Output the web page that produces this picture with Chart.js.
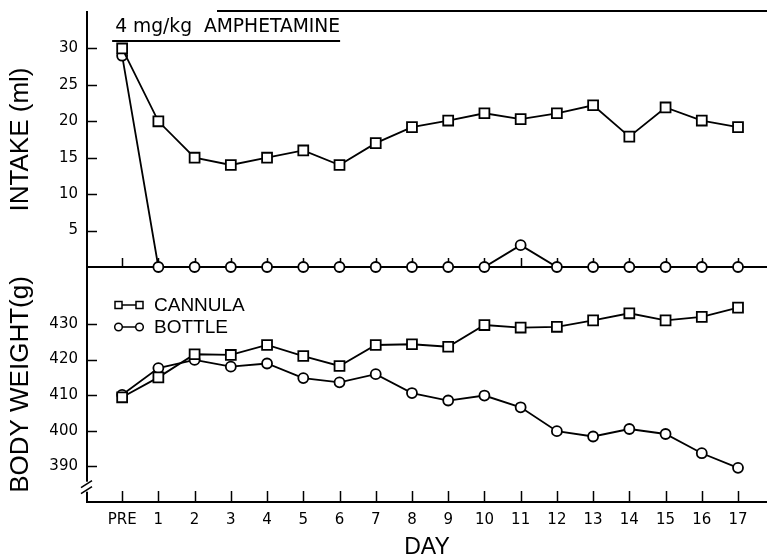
<!DOCTYPE html>
<html>
<head>
<meta charset="utf-8">
<script src="https://cdn.jsdelivr.net/npm/chart.js@4"></script>
<style>
  html, body { margin: 0; padding: 0; background: #fff; }
  canvas { display: block; }
</style>
</head>
<body>
<canvas id="chart" width="767" height="560"></canvas>
<script>
const dayLabels = ['PRE', '1', '2', '3', '4', '5', '6', '7', '8', '9', '10', '11', '12', '13', '14', '15', '16', '17'];
const intakeCannula = [30, 20, 15, 14, 15, 16, 14, 17, 19.2, 20.1, 21.1, 20.3, 21.1, 22.2, 17.9, 21.9, 20.1, 19.2];
const intakeBottle = [29, 0, 0, 0, 0, 0, 0, 0, 0, 0, 0, 3, 0, 0, 0, 0, 0, 0];
const weightCannula = [409.4, 415, 421.5, 421.3, 424.1, 421, 418.2, 424.1, 424.3, 423.6, 429.7, 429, 429.2, 431, 433, 431, 432, 434.6];
const weightBottle = [410.1, 417.6, 419.9, 418, 418.9, 414.8, 413.6, 415.9, 410.6, 408.5, 409.9, 406.6, 399.9, 398.4, 400.5, 399.1, 393.7, 389.6];
const intakeTicks = [5, 10, 15, 20, 25, 30];
const weightTicks = [390, 400, 410, 420, 430];
const legendLabels = ['CANNULA', 'BOTTLE'];
const doseLabel = '4 mg/kg  AMPHETAMINE';

const FONT = "'Liberation Sans', Arial, sans-serif";
const WIDE = "'DejaVu Sans', sans-serif";
const INK = '#000';

const toPoints = (arr) => arr.map((v, i) => ({ x: i, y: v }));

function series(data, axis, style) {
  return {
    data: toPoints(data),
    yAxisID: axis,
    borderColor: INK,
    borderWidth: 1.8,
    pointStyle: style,
    pointRadius: style === 'rect' ? 7 : 5,
    pointBorderWidth: 1.8,
    pointBorderColor: INK,
    pointBackgroundColor: '#fff',
    tension: 0,
    clip: false,
  };
}

// no label overhang padding, so the plot fills the canvas edges
function noPad(s) {
  s.paddingTop = 0;
  s.paddingBottom = 0;
  s.paddingLeft = 0;
  s.paddingRight = 0;
}

const decor = {
  id: 'decor',
  beforeDatasetsDraw(chart) {
    const { ctx, chartArea: a, scales: { x, yI, yW } } = chart;
    const y0 = yI.getPixelForValue(0);
    ctx.save();
    ctx.strokeStyle = INK;
    ctx.lineWidth = 2;
    ctx.beginPath();
    // partial frame on top
    ctx.moveTo(217, a.top - 1);
    ctx.lineTo(a.right, a.top - 1);
    // zero line of intake panel
    ctx.moveTo(a.left, y0);
    ctx.lineTo(a.right, y0);
    ctx.stroke();

    ctx.lineWidth = 1.5;
    ctx.beginPath();
    dayLabels.forEach((_, i) => {
      const px = Math.round(x.getPixelForValue(i)) + 0.5;
      ctx.moveTo(px, y0);
      ctx.lineTo(px, y0 - 9);
      ctx.moveTo(px, a.bottom);
      ctx.lineTo(px, a.bottom - 11);
    });
    intakeTicks.forEach((v) => {
      const py = Math.round(yI.getPixelForValue(v)) + 0.5;
      ctx.moveTo(a.left, py);
      ctx.lineTo(a.left + 10, py);
    });
    weightTicks.forEach((v) => {
      const py = Math.round(yW.getPixelForValue(v)) + 0.5;
      ctx.moveTo(a.left, py);
      ctx.lineTo(a.left + 10, py);
    });
    ctx.stroke();

    // axis break
    const yb = yW.getPixelForValue(384.3);
    ctx.fillStyle = '#fff';
    ctx.fillRect(a.left - 3, yb - 5, 6, 10);
    ctx.lineWidth = 1.6;
    ctx.beginPath();
    ctx.moveTo(a.left - 6, yb + 1);
    ctx.lineTo(a.left + 5, yb - 6);
    ctx.moveTo(a.left - 6, yb + 7);
    ctx.lineTo(a.left + 5, yb);
    ctx.stroke();
    ctx.restore();
  },
  afterDraw(chart) {
    const { ctx, chartArea: a, scales: { x } } = chart;
    ctx.save();
    ctx.fillStyle = INK;
    ctx.strokeStyle = INK;

    // dose label
    const tx = x.getPixelForValue(0) - 7;
    ctx.font = `18.7px ${WIDE}`;
    ctx.textBaseline = 'alphabetic';
    ctx.fillText(doseLabel, tx, a.top + 20);
    const w = ctx.measureText(doseLabel).width;
    ctx.lineWidth = 2;
    ctx.beginPath();
    ctx.moveTo(tx - 3, a.top + 29);
    ctx.lineTo(tx + w, a.top + 29);
    ctx.stroke();

    // legend
    ctx.font = `19px ${FONT}`;
    ctx.textBaseline = 'middle';
    ctx.lineWidth = 1.5;
    legendLabels.forEach((label, i) => {
      const ly = 305 + i * 22;
      const lx = a.left + 31;
      ctx.beginPath();
      ctx.moveTo(lx + 4, ly);
      ctx.lineTo(lx + 18, ly);
      ctx.stroke();
      if (i === 0) {
        ctx.strokeRect(lx - 3, ly - 3.5, 7, 7);
        ctx.strokeRect(lx + 18, ly - 3.5, 7, 7);
      } else {
        ctx.beginPath();
        ctx.arc(lx + 0.5, ly, 3.8, 0, Math.PI * 2);
        ctx.stroke();
        ctx.beginPath();
        ctx.arc(lx + 21.5, ly, 3.8, 0, Math.PI * 2);
        ctx.stroke();
      }
      ctx.fillText(label, a.left + 67, ly + 1);
    });
    ctx.restore();
  },
};

const tickFont = { family: WIDE, size: 15 };
const titleFont = { family: FONT, size: 26, lineHeight: 1.2 };

new Chart(document.getElementById('chart'), {
  type: 'line',
  data: {
    datasets: [
      series(intakeCannula, 'yI', 'rect'),
      series(intakeBottle, 'yI', 'circle'),
      series(weightCannula, 'yW', 'rect'),
      series(weightBottle, 'yW', 'circle'),
    ],
  },
  options: {
    responsive: false,
    animation: false,
    events: [],
    layout: { autoPadding: false, padding: { top: 12, right: 0, left: 0, bottom: 0 } },
    plugins: { legend: { display: false }, tooltip: { enabled: false } },
    scales: {
      x: {
        type: 'linear',
        min: -0.97,
        max: 17.8,
        afterBuildTicks: (s) => { s.ticks = dayLabels.map((_, i) => ({ value: i })); },
        afterFit: (s) => { s.height = 58; noPad(s); },
        ticks: { color: INK, font: tickFont, padding: 9, maxRotation: 0, autoSkip: false, callback: (v) => dayLabels[v] },
        grid: { display: false, drawTicks: false, tickLength: 0 },
        border: { display: true, color: INK, width: 2 },
        title: { display: true, text: 'DAY', color: INK, font: { family: FONT, size: 23, lineHeight: 1 }, padding: { top: 0, bottom: 1 } },
      },
      yW: {
        type: 'linear',
        position: 'left',
        stack: 'panels',
        stackWeight: 235,
        min: 380,
        max: 446,
        afterBuildTicks: (s) => { s.ticks = weightTicks.map((v) => ({ value: v })); },
        afterFit: (s) => { s.width = 87; noPad(s); },
        ticks: { color: INK, font: tickFont, padding: 9 },
        grid: { display: false, drawTicks: false, tickLength: 0 },
        border: { display: true, color: INK, width: 2 },
        title: { display: true, text: 'BODY WEIGHT(g)', color: INK, font: titleFont, padding: { top: 5, bottom: 0 } },
      },
      yI: {
        type: 'linear',
        position: 'left',
        stack: 'panels',
        stackWeight: 255,
        min: 0,
        max: 35,
        afterBuildTicks: (s) => { s.ticks = intakeTicks.map((v) => ({ value: v })); },
        afterFit: (s) => { s.width = 87; noPad(s); },
        ticks: { color: INK, font: tickFont, padding: 9 },
        grid: { display: false, drawTicks: false, tickLength: 0 },
        border: { display: true, color: INK, width: 2 },
        title: { display: true, text: 'INTAKE (ml)', color: INK, font: titleFont, padding: { top: 5, bottom: 0 } },
      },
    },
  },
  plugins: [decor],
});
</script>
</body>
</html>
